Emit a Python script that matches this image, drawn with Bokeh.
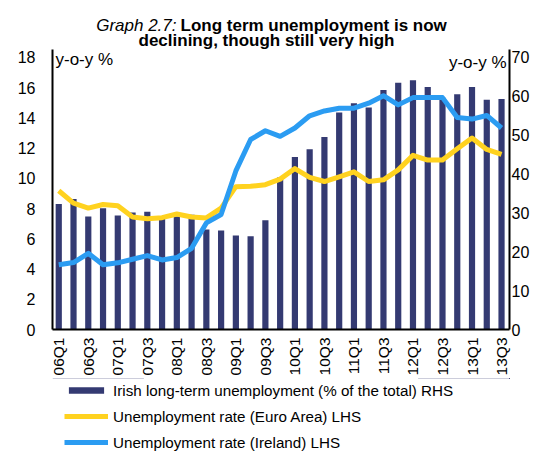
import math
from bokeh.plotting import figure
from bokeh.layouts import column
from bokeh.models import (Range1d, LinearAxis, FixedTicker, Label, Legend,
                          LegendItem, ColumnDataSource)
from bokeh.embed import file_html
from bokeh.resources import INLINE

FONT = "Liberation Sans"
NAVY = "#343a72"
YELLOW = "#ffd21f"
BLUE = "#2b9cf2"

quarters = ["06Q1", "06Q2", "06Q3", "06Q4", "07Q1", "07Q2", "07Q3", "07Q4",
            "08Q1", "08Q2", "08Q3", "08Q4", "09Q1", "09Q2", "09Q3", "09Q4",
            "10Q1", "10Q2", "10Q3", "10Q4", "11Q1", "11Q2", "11Q3", "11Q4",
            "12Q1", "12Q2", "12Q3", "12Q4", "13Q1", "13Q2", "13Q3"]

# Irish long-term unemployment (% of the total), right-hand scale
long_term_share = [32.3, 33.6, 29.1, 31.2, 29.3, 30.1, 30.3, 28.5,
                   29.1, 29.5, 25.7, 25.5, 24.2, 24.0, 28.1, 39.1,
                   44.4, 46.4, 49.5, 55.8, 58.2, 57.1, 61.6, 63.5,
                   64.1, 62.4, 59.6, 60.5, 62.4, 59.1, 59.3]

# Unemployment rate (Euro Area), left-hand scale
euro_area_rate = [9.18, 8.36, 8.03, 8.27, 8.18, 7.44, 7.33, 7.40,
                  7.64, 7.44, 7.38, 8.03, 9.45, 9.47, 9.58, 9.95,
                  10.65, 10.06, 9.79, 10.10, 10.43, 9.79, 9.90, 10.56,
                  11.52, 11.21, 11.21, 11.95, 12.67, 11.91, 11.58]

# Unemployment rate (Ireland), left-hand scale
ireland_rate = [4.28, 4.43, 5.04, 4.28, 4.41, 4.65, 4.89, 4.60,
                4.76, 5.37, 7.05, 7.61, 10.49, 12.57, 13.15, 12.78,
                13.33, 14.14, 14.46, 14.64, 14.64, 14.97, 15.47, 14.86,
                15.34, 15.34, 15.34, 14.03, 13.92, 14.16, 13.33]

left_ticks = [0, 2, 4, 6, 8, 10, 12, 14, 16, 18]
right_ticks = [0, 10, 20, 30, 40, 50, 60, 70]

labels = ["Irish long-term unemployment (% of the total) RHS",
          "Unemployment rate (Euro Area) LHS",
          "Unemployment rate (Ireland) LHS"]

W = 532
TITLE_H = 49
FRAME_H = 283          # 18 on the left scale sits 8 px below the frame top
BOTTOM_B = 46
MAIN_H = FRAME_H + BOTTOM_B
LEG_H = 453 - TITLE_H - MAIN_H
TOP_PAD = FRAME_H / 275.0
B_LEFT, B_RIGHT = 52, 20   # the stacked figures share these side borders

bar_style = dict(fill_color=NAVY, line_color=None)
ea_style = dict(line_color=YELLOW, line_width=5, line_join="round")
ie_style = dict(line_color=BLUE, line_width=5, line_join="round")


def strip(h, y0=0, y1=1):
    f = figure(width=W, height=h, output_backend="svg", toolbar_location=None,
               x_axis_type=None, y_axis_type=None,
               x_range=Range1d(0, 1), y_range=Range1d(y0, y1),
               min_border_left=B_LEFT, min_border_right=B_RIGHT,
               min_border_top=0, min_border_bottom=0)
    f.outline_line_color = None
    f.grid.visible = False
    return f


def tlab(fig, x, y, text, align, style="normal", size="17px"):
    fig.add_layout(Label(x=x, y=y, x_units="screen", y_units="screen", text=text,
                         text_align=align, text_baseline="alphabetic",
                         text_font=FONT, text_font_size=size,
                         text_font_style=style, text_color="black"))

# ---------------- title strip ----------------
t = strip(TITLE_H)
tlab(t, 176 - B_LEFT, 24, "Graph 2.7:", "right", "italic")
tlab(t, 180 - B_LEFT, 24, "Long term unemployment is now", "left", "bold")
tlab(t, 266 - B_LEFT, 9, "declining, though still very high", "center", "bold")

# ---------------- main chart ----------------
idx = list(range(len(quarters)))
src = ColumnDataSource(dict(x=idx, q=quarters, lt=long_term_share,
                            ea=euro_area_rate, ie=ireland_rate))

p = figure(width=W, height=MAIN_H, output_backend="svg", toolbar_location=None,
           x_range=Range1d(-0.424, len(quarters) - 1 + 0.54),
           y_range=Range1d(left_ticks[0], left_ticks[-1] * TOP_PAD),
           min_border_left=B_LEFT, min_border_right=B_RIGHT,
           min_border_top=0, min_border_bottom=BOTTOM_B)
p.extra_y_ranges = {"rhs": Range1d(right_ticks[0], right_ticks[-1] * TOP_PAD)}
p.outline_line_color = None
p.xgrid.visible = False
p.ygrid.visible = False

p.vbar(x="x", top="lt", width=0.42, source=src, y_range_name="rhs", **bar_style)
p.line("x", "ea", source=src, **ea_style)
p.line("x", "ie", source=src, **ie_style)

rax = LinearAxis(y_range_name="rhs", ticker=FixedTicker(ticks=right_ticks))
p.add_layout(rax, "right")

xax = p.xaxis[0]
xax.ticker = FixedTicker(ticks=idx[::2])
xax.major_label_overrides = {i: quarters[i] for i in idx[::2]}
xax.major_label_orientation = math.pi / 2
xax.major_label_text_font_size = "15.5px"
xax.major_label_standoff = 8

lax = p.yaxis[0]
lax.ticker = FixedTicker(ticks=left_ticks)
lax.major_label_standoff = 17
rax.major_label_standoff = 2

for ax in (xax, lax, rax):
    ax.axis_line_width = 2
    ax.axis_line_color = "black"
    ax.major_tick_line_color = None
    ax.minor_tick_line_color = None
    ax.major_tick_out = 0
    ax.major_tick_in = 0
    ax.minor_tick_out = 0
    ax.minor_tick_in = 0
    ax.major_label_text_font = FONT
    ax.major_label_text_color = "black"
for ax in (lax, rax):
    ax.major_label_text_font_size = "16px"

# "y-o-y %" unit labels (screen units from the frame's bottom-left)
tlab(p, 3, 270, "y-o-y %", "left")
tlab(p, 454, 267, "y-o-y %", "right")

# ---------------- legend strip ----------------
# the strip's y range lies below every value, so its renderers only feed the legend
lg = strip(LEG_H, -2, -1)
r_bar = lg.vbar(x="x", top="lt", width=0.4, source=src, **bar_style)
r_ea = lg.line("x", "ea", source=src, **ea_style)
r_ie = lg.line("x", "ie", source=src, **ie_style)
legend = Legend(items=[LegendItem(label=labels[0], renderers=[r_bar]),
                       LegendItem(label=labels[1], renderers=[r_ea]),
                       LegendItem(label=labels[2], renderers=[r_ie])],
                location=(64 - B_LEFT, 1), orientation="vertical", glyph_width=44,
                glyph_height=8, label_height=20, spacing=6, padding=0, margin=0,
                border_line_color=None, background_fill_alpha=0,
                label_text_font=FONT, label_text_font_size="15.2px",
                label_standoff=5, label_text_color="black")
lg.add_layout(legend)

open("out.html", "w").write(file_html(column(t, p, lg, spacing=0), INLINE))
